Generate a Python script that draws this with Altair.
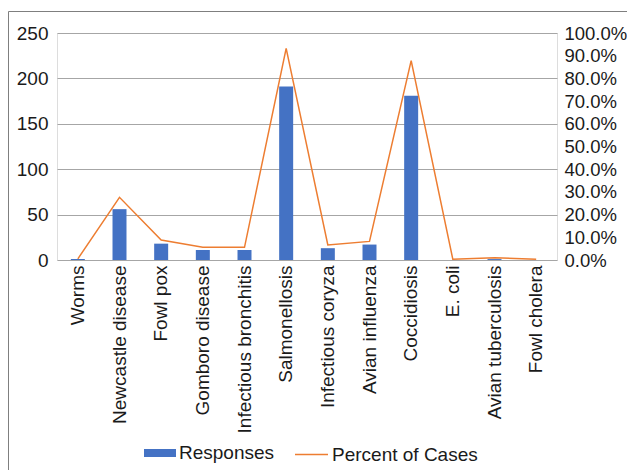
import altair as alt
import pandas as pd

categories = ["Worms", "Newcastle disease", "Fowl pox", "Gomboro disease",
              "Infectious bronchitis", "Salmonellosis", "Infectious coryza",
              "Avian influenza", "Coccidiosis", "E. coli", "Avian tuberculosis",
              "Fowl cholera"]
responses = [1, 56, 18, 11, 11, 191, 13, 17, 181, 0, 1, 0]
percent = [0.005, 0.276, 0.088, 0.056, 0.056, 0.932, 0.066, 0.082, 0.878, 0.003, 0.01, 0.003]

df = pd.DataFrame({"Disease": categories, "Responses": responses, "Percent": percent,
                   "s1": "Responses", "s2": "Percent of Cases"})

FONT = "Liberation Sans"
TXT = "#1a1a1a"
FS = 19

x = alt.X("Disease:N", sort=categories, title=None,
          scale=alt.Scale(paddingInner=0.664, paddingOuter=0.332),
          axis=alt.Axis(labelAngle=-90, labelFontSize=FS, labelFont=FONT, labelColor=TXT,
                        ticks=False, domain=False, labelPadding=5, labelLimit=300))

bars = alt.Chart(df).mark_bar(color="#4472C4").encode(
    x=x,
    y=alt.Y("Responses:Q", title=None,
            scale=alt.Scale(domain=[0, 250], nice=False),
            axis=alt.Axis(values=[0, 50, 100, 150, 200, 250], labelFontSize=FS, labelFont=FONT,
                          labelColor=TXT, ticks=False, domain=False, gridColor="#a6a6a6",
                          labelPadding=9)),
    fill=alt.Fill("s1:N", scale=alt.Scale(domain=["Responses"], range=["#4472C4"]),
                  legend=alt.Legend(title=None, orient="none", legendX=87, legendY=404,
                                    symbolType="M-1,-0.25H1V0.25H-1Z", symbolSize=1024,
                                    symbolStrokeWidth=0, labelFontSize=FS, labelFont=FONT,
                                    labelColor=TXT, padding=0, labelOffset=3)),
)

line = alt.Chart(df).mark_line(color="#ED7D31", strokeWidth=1.5).encode(
    x=x,
    y=alt.Y("Percent:Q", title=None,
            scale=alt.Scale(domain=[0, 1], nice=False),
            axis=alt.Axis(orient="right", values=[i / 10 for i in range(11)], format=".1%",
                          labelFontSize=18.5, labelFont=FONT, labelColor=TXT, ticks=False,
                          domain=False, grid=False, labelPadding=7, labelOverlap=False)),
    stroke=alt.Stroke("s2:N", scale=alt.Scale(domain=["Percent of Cases"], range=["#ED7D31"]),
                      legend=alt.Legend(title=None, orient="none", legendX=237, legendY=404,
                                        symbolType="stroke", symbolSize=1089,
                                        symbolStrokeWidth=1.5, labelFontSize=FS, labelFont=FONT,
                                        labelColor=TXT, padding=0, labelOffset=3)),
)

frame = alt.Chart(pd.DataFrame({"a": [0]})).mark_rect(
    fill=None, stroke="#7f7f7f", strokeWidth=1
).encode(x=alt.value(-48.5), x2=alt.value(600), y=alt.value(-21.5), y2=alt.value(460))

chart = alt.layer(bars, line, frame).resolve_scale(
    y="independent", fill="independent", stroke="independent"
).properties(
    width=500, height=227,
    autosize=alt.AutoSizeParams(type="none"),
    padding={"left": 49, "top": 25, "right": 70, "bottom": 215},
).configure_view(stroke="#a6a6a6", strokeWidth=1).configure(background="white")

chart.save("out.html", embed_options={"renderer": "svg", "actions": False})
